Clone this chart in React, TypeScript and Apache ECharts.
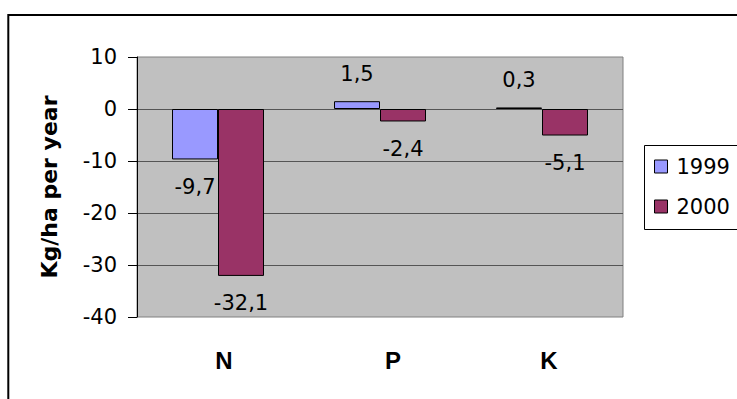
import React, { useEffect, useRef } from "react";
import * as echarts from "echarts";

// Nutrient balance per element, two years
const categories = ["N", "P", "K"];
const values1999 = [-9.7, 1.5, 0.3];
const values2000 = [-32.1, -2.4, -5.1];
const seriesNames = ["1999", "2000"];
const yTicks = { min: -40, max: 10, interval: 10 };

const NUM_FONT = '"DejaVu Sans", Verdana, sans-serif';
const TITLE_FONT = '"DejaVu Sans", Verdana, sans-serif';
const CAT_FONT = 'Arial, "Liberation Sans", sans-serif';

// Small horizontal nudges for the category labels (px of left padding)
const catLabelShift: Record<string, number> = { N: 12, P: 26, K: 14 };

const fmt = (v: number) => v.toFixed(1).replace(".", ",");

export default function App() {
  const ref = useRef<HTMLDivElement>(null);

  useEffect(() => {
    if (!ref.current) return;
    const chart = echarts.init(ref.current, undefined, { renderer: "svg" });

    const labelStyle = {
      show: true,
      position: "outside" as any,
      distance: 17,
      fontFamily: NUM_FONT,
      fontSize: 21,
      color: "#000",
      formatter: (p: any) => fmt(p.value),
    };

    const rich: Record<string, any> = {};
    categories.forEach((c) => {
      rich[c] = {
        fontFamily: CAT_FONT,
        fontSize: 24,
        fontWeight: "bold",
        color: "#000",
        padding: [0, 0, 0, catLabelShift[c] ?? 0],
      };
    });

    chart.setOption({
      animation: false,
      backgroundColor: "#ffffff",
      textStyle: { fontFamily: NUM_FONT },
      graphic: [
        // outer chart frame: top and left edges (the rest runs off the page)
        {
          type: "polyline",
          shape: { points: [[8.3, 420], [8.3, 15], [760, 15]] },
          style: { fill: "none", stroke: "#000", lineWidth: 2 },
          z: 100,
          silent: true,
        },
        // legend frame: open on the right, where it runs off the page
        {
          type: "polyline",
          shape: { points: [[760, 145.5], [644.5, 145.5], [644.5, 229.5], [760, 229.5]] },
          style: { fill: "none", stroke: "#000", lineWidth: 1 },
          z: 1,
          silent: true,
        },
      ],
      grid: {
        left: 137,
        top: 57,
        width: 486,
        height: 260,
        show: true,
        backgroundColor: "#C0C0C0",
        borderColor: "#808080",
        borderWidth: 1,
      },
      legend: {
        data: seriesNames,
        orient: "vertical",
        left: 644,
        top: 145,
        icon: "rect",
        itemWidth: 13,
        itemHeight: 13,
        itemGap: 19,
        padding: [11, 0, 11, 10],
        z: 10,
        itemStyle: { borderColor: "#000", borderWidth: 1 },
        textStyle: {
          fontFamily: NUM_FONT,
          fontSize: 21,
          color: "#000",
          padding: [0, 0, 0, 4],
        },
      },
      xAxis: {
        type: "category",
        data: categories,
        axisLine: { show: false },
        axisTick: { show: false },
        splitLine: { show: false },
        axisLabel: {
          margin: 31,
          formatter: (v: string) => `{${v}|${v}}`,
          rich,
        },
      },
      yAxis: {
        type: "value",
        min: yTicks.min,
        max: yTicks.max,
        interval: yTicks.interval,
        name: "Kg/ha per year",
        nameLocation: "middle",
        nameGap: 77,
        nameTextStyle: {
          fontFamily: TITLE_FONT,
          fontSize: 22,
          fontWeight: "bold",
          color: "#000",
        },
        axisLine: { show: true, onZero: false, lineStyle: { color: "#000", width: 1 } },
        axisTick: { show: true, inside: false, length: 9, lineStyle: { color: "#000" } },
        axisLabel: {
          margin: 20,
          fontFamily: NUM_FONT,
          fontSize: 21,
          color: "#000",
        },
        splitLine: {
          show: true,
          showMinLine: false,
          showMaxLine: false,
          lineStyle: { color: "#555", width: 1 },
        },
      },
      series: [
        {
          name: seriesNames[0],
          type: "bar",
          data: values1999,
          barWidth: 46,
          barGap: "0%",
          itemStyle: { color: "#9999FF", borderColor: "#000", borderWidth: 1 },
          label: labelStyle,
        },
        {
          name: seriesNames[1],
          type: "bar",
          data: values2000,
          barWidth: 46,
          barGap: "0%",
          itemStyle: { color: "#993366", borderColor: "#000", borderWidth: 1 },
          label: labelStyle,
        },
      ],
    });

    return () => chart.dispose();
  }, []);

  return (
    <div
      ref={ref}
      style={{ position: "absolute", left: 0, top: 0, width: 737, height: 399 }}
    />
  );
}
